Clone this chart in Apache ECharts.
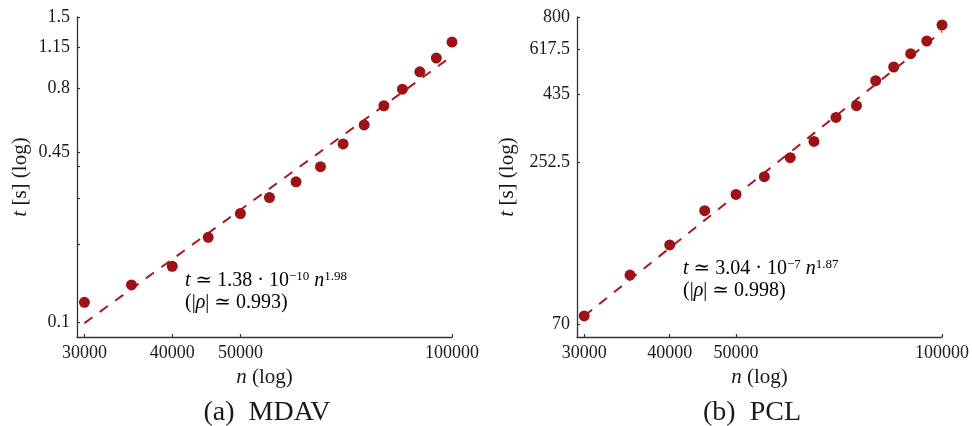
<!DOCTYPE html>
<html><head><meta charset="utf-8">
<script src="https://cdn.jsdelivr.net/npm/echarts@6/dist/echarts.min.js"></script>
<style>html,body{margin:0;padding:0;background:#fff}#c{width:972px;height:426px}</style>
</head><body><div id="c"></div>
<script>
// ---- data ----
const nValues = [30000, 35000, 40000, 45000, 50000, 55000, 60000, 65000, 70000, 75000, 80000, 85000, 90000, 95000, 100000];
const mdavTimes = [0.119, 0.139, 0.164, 0.212, 0.262, 0.302, 0.347, 0.397, 0.486, 0.575, 0.682, 0.790, 0.922, 1.042, 1.201];
const pclTimes = [75.0, 103.7, 131.6, 172.6, 196.4, 225.9, 262.6, 298.8, 361.2, 396.4, 483.2, 538.5, 598.4, 661.6, 750.9];
const mdavFitN = [30000, 100000];
const mdavFitT = [0.099, 1.06];
const pclFitN = [30000, 100000];
const pclFitT = [75, 713];
const xTicks = [30000, 40000, 50000, 100000];
const mdavYTicks = [0.1, 0.45, 0.8, 1.15, 1.5];
const mdavYMinorTicks = [0.2, 0.3, 0.4];
const pclYTicks = [70, 252.5, 435, 617.5, 800];

const FONT = '"Liberation Serif", "DejaVu Serif", serif';
const TXT = '#1a1a1a';
const AX = '#333';
const RED = '#9B1317';

const zip = (a, b) => a.map((v, i) => [v, b[i]]);
const fmt = v => String(+(+v).toPrecision(6));

function xAxisCfg(gi) {
  return {
    type: 'log', gridIndex: gi, min: 29280, max: 100000,
    name: '{it|n} (log)', nameLocation: 'middle', nameGap: 30,
    nameTextStyle: { fontFamily: FONT, fontSize: 21, color: TXT, rich: { it: { fontStyle: 'italic', fontFamily: FONT, fontSize: 21, color: TXT } } },
    axisLine: { show: true, lineStyle: { color: AX, width: 1.3 } },
    axisTick: { show: true, inside: true, length: 3, lineStyle: { color: AX, width: 1.2 }, customValues: xTicks },
    axisLabel: { customValues: xTicks, formatter: v => fmt(v), fontFamily: FONT, fontSize: 18, color: TXT, margin: 7 },
    splitLine: { show: false }, minorTick: { show: false }
  };
}
function yAxisCfg(gi, min, max, ticks, minor, gap) {
  return {
    type: 'log', gridIndex: gi, min: min, max: max,
    name: '{it|t} [s] (log)', nameLocation: 'middle', nameGap: gap, nameRotate: 90,
    nameTextStyle: { fontFamily: FONT, fontSize: 21, color: TXT, rich: { it: { fontStyle: 'italic', fontFamily: FONT, fontSize: 21, color: TXT } } },
    axisLine: { show: true, lineStyle: { color: AX, width: 1.3 } },
    axisTick: { show: true, inside: true, length: 3, lineStyle: { color: AX, width: 1.2 }, customValues: ticks.concat(minor) },
    axisLabel: { customValues: ticks, formatter: v => fmt(v), fontFamily: FONT, fontSize: 18, color: TXT, margin: 7 },
    splitLine: { show: false }, minorTick: { show: false }
  };
}

const rich = {
  b: { fontFamily: FONT, fontSize: 20, color: TXT, lineHeight: 22 },
  it: { fontFamily: FONT, fontSize: 20, fontStyle: 'italic', color: TXT, lineHeight: 22 },
  sup: { fontFamily: FONT, fontSize: 13, color: TXT, lineHeight: 22, verticalAlign: 'top', padding: [0, 0, 9, 0] }
};

const chart = echarts.init(document.getElementById('c'), null, { renderer: 'canvas' });
chart.setOption({
  animation: false,
  backgroundColor: '#fff',
  grid: [
    { left: 77, right: 520, top: 17, bottom: 89 },
    { left: 577, right: 30, top: 17, bottom: 89 }
  ],
  xAxis: [xAxisCfg(0), xAxisCfg(1)],
  yAxis: [
    yAxisCfg(0, 0.0875, 1.5, mdavYTicks, mdavYMinorTicks, 46),
    yAxisCfg(1, 63.5, 800, pclYTicks, [], 59)
  ],
  series: [
    { type: 'line', xAxisIndex: 0, yAxisIndex: 0, data: zip(mdavFitN, mdavFitT), symbol: 'none', z: 2,
      lineStyle: { color: '#A51A1E', width: 2, type: [10, 9] } },
    { type: 'scatter', xAxisIndex: 0, yAxisIndex: 0, data: zip(nValues, mdavTimes), symbolSize: 11, z: 3,
      itemStyle: { color: RED, opacity: 1 } },
    { type: 'line', xAxisIndex: 1, yAxisIndex: 1, data: zip(pclFitN, pclFitT), symbol: 'none', z: 2,
      lineStyle: { color: '#A51A1E', width: 2, type: [10, 9] } },
    { type: 'scatter', xAxisIndex: 1, yAxisIndex: 1, data: zip(nValues, pclTimes), symbolSize: 11, z: 3,
      itemStyle: { color: RED, opacity: 1 } }
  ],
  graphic: [
    { type: 'text', left: 185, top: 270, style: {
        text: '{it|t}{b| ≃ 1.38 · 10}{sup|−10}{b| }{it|n}{sup|1.98}\n{b|(|}{it|ρ}{b|| ≃ 0.993)}',
        rich: rich } },
    { type: 'text', left: 683, top: 258, style: {
        text: '{it|t}{b| ≃ 3.04 · 10}{sup|−7}{b| }{it|n}{sup|1.87}\n{b|(|}{it|ρ}{b|| ≃ 0.998)}',
        rich: rich } },
    { type: 'text', x: 267, y: 413, style: { text: '(a)  MDAV', fontFamily: FONT, fontSize: 28, fill: TXT, align: 'center', verticalAlign: 'middle' } },
    { type: 'text', x: 752, y: 413, style: { text: '(b)  PCL', fontFamily: FONT, fontSize: 28, fill: TXT, align: 'center', verticalAlign: 'middle' } }
  ]
});
</script></body></html>
